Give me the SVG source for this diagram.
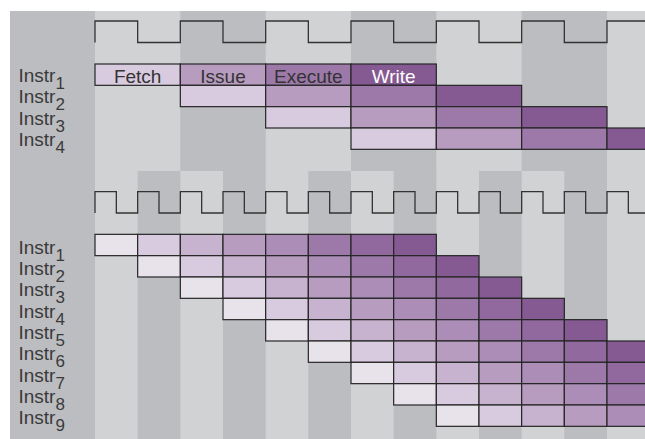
<svg xmlns="http://www.w3.org/2000/svg" width="645" height="439" viewBox="0 0 645 439">
<style>
.bgD{fill:#bcbdc1}
.bgL{fill:#d1d2d4}
.clk{fill:none;stroke:#333;stroke-width:1.3}
.cell{stroke:#262626;stroke-width:1.2}
.s1{fill:#e8e3eb}.s2{fill:#d9cbdf}.s3{fill:#c7b3cf}.s4{fill:#b89cc0}
.s5{fill:#ab8db8}.s6{fill:#9d79a9}.s7{fill:#91699f}.s8{fill:#855a93}
.lbl{font-family:"Liberation Sans",Arial,sans-serif;font-size:19px;fill:#3a3a3a}
.sub{font-size:17px}
.stg{font-family:"Liberation Sans",Arial,sans-serif;font-size:19px;fill:#333;text-anchor:middle}
.w{fill:#fff}
</style>
<rect x="0" y="0" width="645" height="439" fill="#fff"/>
<g id="background">
<rect class="bgD" x="10" y="11" width="635" height="428"/>
<rect class="bgL" x="95" y="11" width="85.33" height="160"/>
<rect class="bgL" x="265.67" y="11" width="85.33" height="160"/>
<rect class="bgL" x="436.33" y="11" width="85.33" height="160"/>
<rect class="bgL" x="607" y="11" width="38" height="160"/>
<rect class="bgL" x="95" y="171" width="550" height="268"/>
<rect class="bgD" x="137.67" y="171" width="42.67" height="268"/>
<rect class="bgD" x="223" y="171" width="42.67" height="268"/>
<rect class="bgD" x="308.33" y="171" width="42.67" height="268"/>
<rect class="bgD" x="393.67" y="171" width="42.67" height="268"/>
<rect class="bgD" x="479" y="171" width="42.67" height="268"/>
<rect class="bgD" x="564.33" y="171" width="42.67" height="268"/>
</g>
<g id="clock-top">
<path class="clk" d="M95,42.5V21H137.67V42.5H180.33V21H223V42.5H265.67V21H308.33V42.5H351V21H393.67V42.5H436.33V21H479V42.5H521.67V21H564.33V42.5H607V21H645"/>
</g>
<g id="clock-bottom">
<path class="clk" d="M95,213V191.7H116.33V213H137.67V191.7H159V213H180.33V191.7H201.67V213H223V191.7H244.33V213H265.67V191.7H287V213H308.33V191.7H329.67V213H351V191.7H372.33V213H393.67V191.7H415V213H436.33V191.7H457.67V213H479V191.7H500.33V213H521.67V191.7H543V213H564.33V191.7H585.67V213H607V191.7H628.33V213H645"/>
</g>
<g id="top-pipeline">
<g id="t-instr1">
<rect class="cell s2" x="95" y="64" width="85.33" height="21.33"/>
<rect class="cell s4" x="180.33" y="64" width="85.33" height="21.33"/>
<rect class="cell s6" x="265.67" y="64" width="85.33" height="21.33"/>
<rect class="cell s8" x="351" y="64" width="85.33" height="21.33"/>
<text class="stg" x="137.7" y="82.5">Fetch</text>
<text class="stg" x="223" y="82.5">Issue</text>
<text class="stg" x="308.3" y="82.5">Execute</text>
<text class="stg w" x="393.7" y="82.5">Write</text>
</g>
<g id="t-instr2">
<rect class="cell s2" x="180.33" y="85.33" width="85.33" height="21.33"/>
<rect class="cell s4" x="265.67" y="85.33" width="85.33" height="21.33"/>
<rect class="cell s6" x="351" y="85.33" width="85.33" height="21.33"/>
<rect class="cell s8" x="436.33" y="85.33" width="85.33" height="21.33"/>
</g>
<g id="t-instr3">
<rect class="cell s2" x="265.67" y="106.67" width="85.33" height="21.33"/>
<rect class="cell s4" x="351" y="106.67" width="85.33" height="21.33"/>
<rect class="cell s6" x="436.33" y="106.67" width="85.33" height="21.33"/>
<rect class="cell s8" x="521.67" y="106.67" width="85.33" height="21.33"/>
</g>
<g id="t-instr4">
<rect class="cell s2" x="351" y="128" width="85.33" height="21.33"/>
<rect class="cell s4" x="436.33" y="128" width="85.33" height="21.33"/>
<rect class="cell s6" x="521.67" y="128" width="85.33" height="21.33"/>
<rect class="cell s8" x="607" y="128" width="85.33" height="21.33"/>
</g>
</g>
<g id="top-labels">
<text class="lbl" x="18.5" y="82">Instr<tspan class="sub" dy="7">1</tspan></text>
<text class="lbl" x="18.5" y="103.3">Instr<tspan class="sub" dy="7">2</tspan></text>
<text class="lbl" x="18.5" y="124.7">Instr<tspan class="sub" dy="7">3</tspan></text>
<text class="lbl" x="18.5" y="146">Instr<tspan class="sub" dy="7">4</tspan></text>
</g>
<g id="bottom-pipeline">
<g id="b-instr1" transform="translate(95,234.33)">
<rect class="cell s1" x="0" y="0" width="42.67" height="21.33"/><rect class="cell s2" x="42.67" y="0" width="42.67" height="21.33"/><rect class="cell s3" x="85.33" y="0" width="42.67" height="21.33"/><rect class="cell s4" x="128" y="0" width="42.67" height="21.33"/><rect class="cell s5" x="170.67" y="0" width="42.67" height="21.33"/><rect class="cell s6" x="213.33" y="0" width="42.67" height="21.33"/><rect class="cell s7" x="256" y="0" width="42.67" height="21.33"/><rect class="cell s8" x="298.67" y="0" width="42.67" height="21.33"/>
</g>
<g id="b-instr2" transform="translate(137.67,255.67)">
<rect class="cell s1" x="0" y="0" width="42.67" height="21.33"/><rect class="cell s2" x="42.67" y="0" width="42.67" height="21.33"/><rect class="cell s3" x="85.33" y="0" width="42.67" height="21.33"/><rect class="cell s4" x="128" y="0" width="42.67" height="21.33"/><rect class="cell s5" x="170.67" y="0" width="42.67" height="21.33"/><rect class="cell s6" x="213.33" y="0" width="42.67" height="21.33"/><rect class="cell s7" x="256" y="0" width="42.67" height="21.33"/><rect class="cell s8" x="298.67" y="0" width="42.67" height="21.33"/>
</g>
<g id="b-instr3" transform="translate(180.33,277)">
<rect class="cell s1" x="0" y="0" width="42.67" height="21.33"/><rect class="cell s2" x="42.67" y="0" width="42.67" height="21.33"/><rect class="cell s3" x="85.33" y="0" width="42.67" height="21.33"/><rect class="cell s4" x="128" y="0" width="42.67" height="21.33"/><rect class="cell s5" x="170.67" y="0" width="42.67" height="21.33"/><rect class="cell s6" x="213.33" y="0" width="42.67" height="21.33"/><rect class="cell s7" x="256" y="0" width="42.67" height="21.33"/><rect class="cell s8" x="298.67" y="0" width="42.67" height="21.33"/>
</g>
<g id="b-instr4" transform="translate(223,298.33)">
<rect class="cell s1" x="0" y="0" width="42.67" height="21.33"/><rect class="cell s2" x="42.67" y="0" width="42.67" height="21.33"/><rect class="cell s3" x="85.33" y="0" width="42.67" height="21.33"/><rect class="cell s4" x="128" y="0" width="42.67" height="21.33"/><rect class="cell s5" x="170.67" y="0" width="42.67" height="21.33"/><rect class="cell s6" x="213.33" y="0" width="42.67" height="21.33"/><rect class="cell s7" x="256" y="0" width="42.67" height="21.33"/><rect class="cell s8" x="298.67" y="0" width="42.67" height="21.33"/>
</g>
<g id="b-instr5" transform="translate(265.67,319.67)">
<rect class="cell s1" x="0" y="0" width="42.67" height="21.33"/><rect class="cell s2" x="42.67" y="0" width="42.67" height="21.33"/><rect class="cell s3" x="85.33" y="0" width="42.67" height="21.33"/><rect class="cell s4" x="128" y="0" width="42.67" height="21.33"/><rect class="cell s5" x="170.67" y="0" width="42.67" height="21.33"/><rect class="cell s6" x="213.33" y="0" width="42.67" height="21.33"/><rect class="cell s7" x="256" y="0" width="42.67" height="21.33"/><rect class="cell s8" x="298.67" y="0" width="42.67" height="21.33"/>
</g>
<g id="b-instr6" transform="translate(308.33,341)">
<rect class="cell s1" x="0" y="0" width="42.67" height="21.33"/><rect class="cell s2" x="42.67" y="0" width="42.67" height="21.33"/><rect class="cell s3" x="85.33" y="0" width="42.67" height="21.33"/><rect class="cell s4" x="128" y="0" width="42.67" height="21.33"/><rect class="cell s5" x="170.67" y="0" width="42.67" height="21.33"/><rect class="cell s6" x="213.33" y="0" width="42.67" height="21.33"/><rect class="cell s7" x="256" y="0" width="42.67" height="21.33"/><rect class="cell s8" x="298.67" y="0" width="42.67" height="21.33"/>
</g>
<g id="b-instr7" transform="translate(351,362.33)">
<rect class="cell s1" x="0" y="0" width="42.67" height="21.33"/><rect class="cell s2" x="42.67" y="0" width="42.67" height="21.33"/><rect class="cell s3" x="85.33" y="0" width="42.67" height="21.33"/><rect class="cell s4" x="128" y="0" width="42.67" height="21.33"/><rect class="cell s5" x="170.67" y="0" width="42.67" height="21.33"/><rect class="cell s6" x="213.33" y="0" width="42.67" height="21.33"/><rect class="cell s7" x="256" y="0" width="42.67" height="21.33"/><rect class="cell s8" x="298.67" y="0" width="42.67" height="21.33"/>
</g>
<g id="b-instr8" transform="translate(393.67,383.67)">
<rect class="cell s1" x="0" y="0" width="42.67" height="21.33"/><rect class="cell s2" x="42.67" y="0" width="42.67" height="21.33"/><rect class="cell s3" x="85.33" y="0" width="42.67" height="21.33"/><rect class="cell s4" x="128" y="0" width="42.67" height="21.33"/><rect class="cell s5" x="170.67" y="0" width="42.67" height="21.33"/><rect class="cell s6" x="213.33" y="0" width="42.67" height="21.33"/><rect class="cell s7" x="256" y="0" width="42.67" height="21.33"/><rect class="cell s8" x="298.67" y="0" width="42.67" height="21.33"/>
</g>
<g id="b-instr9" transform="translate(436.33,405)">
<rect class="cell s1" x="0" y="0" width="42.67" height="21.33"/><rect class="cell s2" x="42.67" y="0" width="42.67" height="21.33"/><rect class="cell s3" x="85.33" y="0" width="42.67" height="21.33"/><rect class="cell s4" x="128" y="0" width="42.67" height="21.33"/><rect class="cell s5" x="170.67" y="0" width="42.67" height="21.33"/><rect class="cell s6" x="213.33" y="0" width="42.67" height="21.33"/><rect class="cell s7" x="256" y="0" width="42.67" height="21.33"/><rect class="cell s8" x="298.67" y="0" width="42.67" height="21.33"/>
</g>
</g>
<g id="bottom-labels">
<text class="lbl" x="18.5" y="253.7">Instr<tspan class="sub" dy="7">1</tspan></text>
<text class="lbl" x="18.5" y="275">Instr<tspan class="sub" dy="7">2</tspan></text>
<text class="lbl" x="18.5" y="296.3">Instr<tspan class="sub" dy="7">3</tspan></text>
<text class="lbl" x="18.5" y="317.7">Instr<tspan class="sub" dy="7">4</tspan></text>
<text class="lbl" x="18.5" y="339">Instr<tspan class="sub" dy="7">5</tspan></text>
<text class="lbl" x="18.5" y="360.3">Instr<tspan class="sub" dy="7">6</tspan></text>
<text class="lbl" x="18.5" y="381.7">Instr<tspan class="sub" dy="7">7</tspan></text>
<text class="lbl" x="18.5" y="403">Instr<tspan class="sub" dy="7">8</tspan></text>
<text class="lbl" x="18.5" y="424.3">Instr<tspan class="sub" dy="7">9</tspan></text>
</g>
</svg>
